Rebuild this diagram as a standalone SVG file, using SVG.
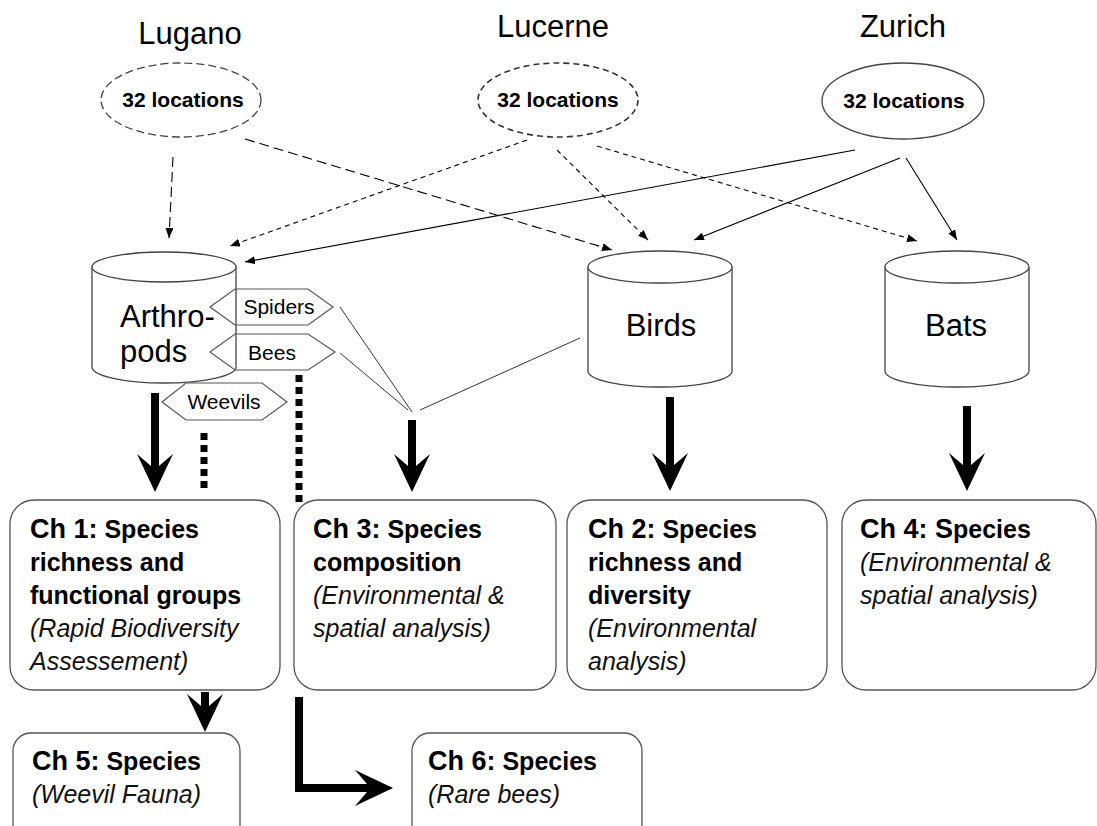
<svg xmlns="http://www.w3.org/2000/svg" width="1097" height="826" viewBox="0 0 1097 826">
<defs>
<style>
text{font-family:"Liberation Sans",Arial,sans-serif;fill:#000}
.title{font-size:31px}
.loc{font-size:21px;font-weight:bold}
.cyl{fill:#fff;stroke:#444;stroke-width:1.3}
.cylt{font-size:31px}
.hex{fill:none;stroke:#555;stroke-width:1.2}
.hext{font-size:21px}
.box{fill:#fff;stroke:#555;stroke-width:1.3}
.ch{font-size:27px;font-weight:bold}
.b{font-size:25px;font-weight:bold}
.i{font-size:25px;font-style:italic;fill:#111}
.thin{fill:none;stroke:#000;stroke-width:1.1}
.ld{stroke-dasharray:10 5}
.sd{stroke-dasharray:5 4}
.thick{fill:none;stroke:#000;stroke-width:8}
.dot{fill:none;stroke:#000;stroke-width:7;stroke-dasharray:7 5}
.fine{fill:none;stroke:#333;stroke-width:1}
</style>
<marker id="ah" viewBox="0 0 10 8" refX="10" refY="4" markerWidth="10" markerHeight="8" markerUnits="userSpaceOnUse" orient="auto">
<path d="M0 0 L10 4 L0 8 Z" fill="#000"/>
</marker>
<path id="bighead" d="M0 0 L-18 -38 L-4 -26 L4 -26 L18 -38 Z" fill="#000"/>
</defs>
<rect width="1097" height="826" fill="#fff"/>

<g id="lugano">
<text class="title" x="190" y="44" text-anchor="middle">Lugano</text>
<ellipse cx="181" cy="100" rx="80" ry="37" fill="none" stroke="#444" stroke-width="1.3" stroke-dasharray="8 4"/>
<text class="loc" x="183" y="107" text-anchor="middle">32 locations</text>
</g>
<g id="lucerne">
<text class="title" x="553" y="37" text-anchor="middle">Lucerne</text>
<ellipse cx="558" cy="100" rx="80" ry="37" fill="none" stroke="#333" stroke-width="1.6" stroke-dasharray="6 4"/>
<text class="loc" x="558" y="107" text-anchor="middle">32 locations</text>
</g>
<g id="zurich">
<text class="title" x="903" y="37" text-anchor="middle">Zurich</text>
<ellipse cx="903" cy="101" rx="81" ry="38" fill="none" stroke="#444" stroke-width="1.3"/>
<text class="loc" x="904" y="108" text-anchor="middle">32 locations</text>
</g>

<g id="connectors">
<line class="thin ld" x1="173" y1="157" x2="169" y2="238" marker-end="url(#ah)"/>
<line class="thin ld" x1="245" y1="139" x2="612" y2="250" marker-end="url(#ah)"/>
<line class="thin sd" x1="527" y1="140" x2="230" y2="246" marker-end="url(#ah)"/>
<line class="thin sd" x1="557" y1="150" x2="648" y2="240" marker-end="url(#ah)"/>
<line class="thin sd" x1="597" y1="146" x2="917" y2="241" marker-end="url(#ah)"/>
<line class="thin" x1="855" y1="150" x2="245" y2="262" marker-end="url(#ah)"/>
<line class="thin" x1="900" y1="158" x2="694" y2="240" marker-end="url(#ah)"/>
<line class="thin" x1="906" y1="158" x2="957" y2="240" marker-end="url(#ah)"/>

<line class="fine" x1="340" y1="307" x2="412" y2="412"/>
<line class="fine" x1="340" y1="353" x2="408" y2="410"/>
<line class="fine" x1="420" y1="410" x2="580" y2="338"/>

<line class="thick" x1="155" y1="393" x2="155" y2="467"/>
<use href="#bighead" x="155" y="492"/>
<line class="thick" x1="412" y1="420" x2="412" y2="467"/>
<use href="#bighead" x="412" y="492"/>
<line class="thick" x1="670" y1="397" x2="670" y2="466"/>
<use href="#bighead" x="670" y="491"/>
<line class="thick" x1="967" y1="406" x2="967" y2="466"/>
<use href="#bighead" x="967" y="491"/>
<line class="thick" x1="205" y1="692" x2="205" y2="707"/>
<use href="#bighead" x="205" y="732"/>
<path class="thick" d="M299 697 V788 H368"/>
<use href="#bighead" transform="translate(393 788) rotate(-90)"/>

<line class="dot" x1="204" y1="433" x2="204" y2="492"/>
<line class="dot" x1="299" y1="375" x2="299" y2="506"/>
</g>

<g id="arthropods">
<path class="cyl" d="M92 267 V367 A72 16 0 0 0 236 367 V267"/>
<ellipse class="cyl" cx="164" cy="267" rx="72" ry="15"/>
<text class="cylt" x="120" y="327">Arthro-</text>
<text class="cylt" x="120" y="362">pods</text>
</g>
<g id="spiders">
<polygon class="hex" points="210,307 235,289 308,289 333,307 308,325 235,325"/>
<text class="hext" x="279" y="314" text-anchor="middle">Spiders</text>
</g>
<g id="bees">
<polygon class="hex" points="210,352 235,334 308,334 335,352 308,370 235,370"/>
<text class="hext" x="272" y="360" text-anchor="middle">Bees</text>
</g>
<g id="weevils">
<polygon class="hex" points="162,402 186,383 262,383 287,402 262,420 186,420"/>
<text class="hext" x="224" y="409" text-anchor="middle">Weevils</text>
</g>
<g id="birds">
<path class="cyl" d="M588 267 V371 A72 16 0 0 0 732 371 V267"/>
<ellipse class="cyl" cx="660" cy="267" rx="72" ry="16"/>
<text class="cylt" x="661" y="336" text-anchor="middle">Birds</text>
</g>
<g id="bats">
<path class="cyl" d="M885 267 V371 A72 16 0 0 0 1029 371 V267"/>
<ellipse class="cyl" cx="957" cy="267" rx="72" ry="16"/>
<text class="cylt" x="956" y="336" text-anchor="middle">Bats</text>
</g>

<g id="ch1">
<rect class="box" x="10" y="500" width="270" height="190" rx="24"/>
<text x="30" y="538"><tspan class="ch">Ch 1:</tspan><tspan class="b"> Species</tspan></text>
<text class="b" x="30" y="571">richness and</text>
<text class="b" x="30" y="604">functional groups</text>
<text class="i" x="30" y="637">(Rapid Biodiversity</text>
<text class="i" x="30" y="670">Assessement)</text>
</g>
<g id="ch3">
<rect class="box" x="294" y="500" width="262" height="190" rx="24"/>
<text x="313" y="538"><tspan class="ch">Ch 3:</tspan><tspan class="b"> Species</tspan></text>
<text class="b" x="313" y="571">composition</text>
<text class="i" x="313" y="604">(Environmental &amp;</text>
<text class="i" x="313" y="637">spatial analysis)</text>
</g>
<g id="ch2">
<rect class="box" x="567" y="500" width="260" height="190" rx="24"/>
<text x="588" y="538"><tspan class="ch">Ch 2:</tspan><tspan class="b"> Species</tspan></text>
<text class="b" x="588" y="571">richness and</text>
<text class="b" x="588" y="604">diversity</text>
<text class="i" x="588" y="637">(Environmental</text>
<text class="i" x="588" y="670">analysis)</text>
</g>
<g id="ch4">
<rect class="box" x="842" y="500" width="254" height="190" rx="24"/>
<text x="860" y="538"><tspan class="ch">Ch 4: S</tspan><tspan class="b">pecies</tspan></text>
<text class="i" x="860" y="571">(Environmental &amp;</text>
<text class="i" x="860" y="604">spatial analysis)</text>
</g>
<g id="ch5">
<rect class="box" x="13" y="733" width="227" height="120" rx="18"/>
<text x="32" y="770"><tspan class="ch">Ch 5:</tspan><tspan class="b"> Species</tspan></text>
<text class="i" x="32" y="803">(Weevil Fauna)</text>
</g>
<g id="ch6">
<rect class="box" x="412" y="733" width="230" height="120" rx="18"/>
<text x="428" y="770"><tspan class="ch">Ch 6:</tspan><tspan class="b"> Species</tspan></text>
<text class="i" x="428" y="803">(Rare bees)</text>
</g>
</svg>
